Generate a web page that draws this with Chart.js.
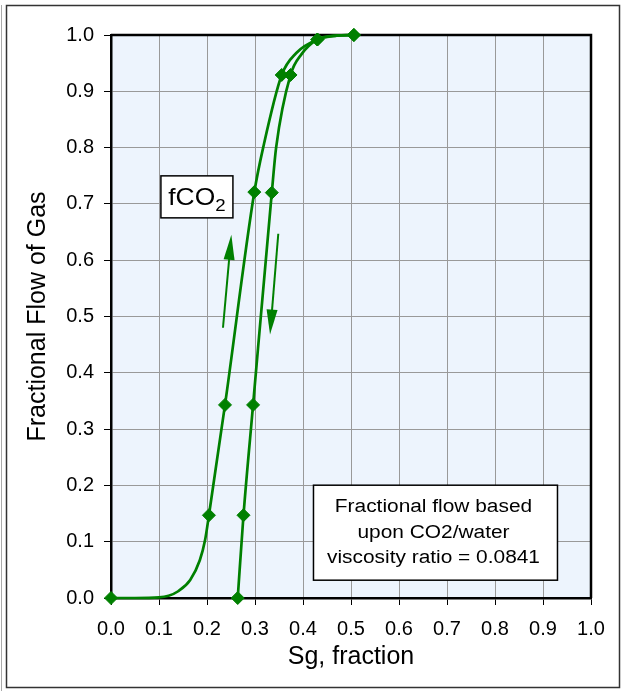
<!DOCTYPE html>
<html>
<head>
<meta charset="utf-8">
<script src="https://cdn.jsdelivr.net/npm/chart.js@4/dist/chart.umd.min.js"></script>
<style>
  html, body { margin: 0; padding: 0; background: #fff; }
</style>
</head>
<body>
<canvas id="myChart" width="626" height="691"></canvas>
<script>
// ticks (both axes use the same 0.0 .. 1.0 steps)
const tickValues = [0, 0.1, 0.2, 0.3, 0.4, 0.5, 0.6, 0.7, 0.8, 0.9, 1.0];
const tickLabels = ["0.0", "0.1", "0.2", "0.3", "0.4", "0.5", "0.6", "0.7", "0.8", "0.9", "1.0"];

// increasing Sg (left curve) - marked points
const drainMarkSg = [0.0, 0.204, 0.2375, 0.2986, 0.3556, 0.430, 0.506];
const drainMarkFg = [0.0, 0.147, 0.343, 0.721, 0.929, 0.992, 1.0];
// left curve as drawn
const drainLineSg = [0.0, 0.05, 0.10, 0.12, 0.14, 0.165, 0.185, 0.196, 0.204, 0.2375, 0.2986, 0.317, 0.3556, 0.386, 0.430, 0.470, 0.506];
const drainLineFg = [0.0, 0.0, 0.001, 0.004, 0.012, 0.032, 0.067, 0.103, 0.147, 0.343, 0.721, 0.800, 0.929, 0.968, 0.992, 0.999, 1.0];

// decreasing Sg (right curve) - marked points
const imbMarkSg = [0.264, 0.276, 0.296, 0.335, 0.374, 0.430, 0.506];
const imbMarkFg = [0.0, 0.147, 0.343, 0.720, 0.929, 0.992, 1.0];
// right curve as drawn
const imbLineSg = [0.264, 0.276, 0.296, 0.335, 0.344, 0.374, 0.397, 0.430, 0.470, 0.506];
const imbLineFg = [0.0, 0.147, 0.343, 0.720, 0.800, 0.929, 0.966, 0.992, 0.999, 1.0];

// annotation anchors in data units
const arrowUp = [[0.2333, 0.48], [0.2507, 0.645]];
const arrowDown = [[0.3485, 0.647], [0.3313, 0.468]];
const fco2Anchor = [0.179, 0.7125];
const noteAnchor = [0.676, 0.116];
const noteLines = ["Fractional flow based", "upon CO2/water", "viscosity ratio = 0.0841"];

const GREEN = "#008000";
const FONT = "'Liberation Sans', Arial, sans-serif";

function pts(xs, ys) {
    return xs.map((x, i) => ({ x: x, y: ys[i] }));
}

function drawArrow(ctx, x1, y1, x2, y2) {
    const a = Math.atan2(y2 - y1, x2 - x1);
    const hl = 25, hw = 5.5;
    const c = Math.cos(a), s = Math.sin(a);
    ctx.beginPath();
    ctx.moveTo(x1, y1);
    ctx.lineTo(x2 - hl * 0.7 * c, y2 - hl * 0.7 * s);
    ctx.stroke();
    ctx.beginPath();
    ctx.moveTo(x2, y2);
    ctx.lineTo(x2 - hl * c + hw * s, y2 - hl * s - hw * c);
    ctx.lineTo(x2 - hl * c - hw * s, y2 - hl * s + hw * c);
    ctx.closePath();
    ctx.fill();
}

// text drawn a bit wider, like the original picture
function wideText(ctx, txt, x, y, sx) {
    ctx.save();
    ctx.translate(x, y);
    ctx.scale(sx, 1);
    ctx.fillText(txt, 0, 0);
    ctx.restore();
}

const decor = {
    id: "decor",
    beforeDraw(chart) {
        const { ctx, chartArea: ca } = chart;
        ctx.save();
        ctx.fillStyle = "#fff";
        ctx.fillRect(0, 0, chart.width, chart.height);
        ctx.fillStyle = "#EDF4FD";
        ctx.fillRect(ca.left, ca.top, ca.right - ca.left, ca.bottom - ca.top);
        ctx.restore();
    },
    beforeDatasetsDraw(chart) {
        const { ctx, chartArea: ca } = chart;
        ctx.save();
        ctx.strokeStyle = "#000";
        ctx.lineWidth = 2.5;
        ctx.beginPath();
        ctx.moveTo(ca.left, ca.top);
        ctx.lineTo(ca.right, ca.top);
        ctx.lineTo(ca.right, ca.bottom);
        ctx.stroke();
        ctx.restore();
    },
    afterDraw(chart) {
        const { ctx } = chart;
        const xs = chart.scales.x, ys = chart.scales.y;
        const px = v => xs.getPixelForValue(v);
        const py = v => ys.getPixelForValue(v);
        ctx.save();

        // arrows
        ctx.strokeStyle = GREEN;
        ctx.fillStyle = GREEN;
        ctx.lineWidth = 2;
        [arrowUp, arrowDown].forEach(ar => {
            drawArrow(ctx, px(ar[0][0]), py(ar[0][1]), px(ar[1][0]), py(ar[1][1]));
        });

        // fCO2 box
        let cx = px(fco2Anchor[0]), cy = py(fco2Anchor[1]);
        ctx.fillStyle = "#fff";
        ctx.strokeStyle = "#000";
        ctx.lineWidth = 1.5;
        ctx.fillRect(cx - 36, cy - 21, 72, 42);
        ctx.strokeRect(cx - 36, cy - 21, 72, 42);
        ctx.fillStyle = "#000";
        ctx.textBaseline = "alphabetic";
        ctx.textAlign = "left";
        ctx.font = "24px " + FONT;
        const w1 = ctx.measureText("fCO").width * 1.1;
        ctx.font = "17px " + FONT;
        const w2 = ctx.measureText("2").width * 1.1;
        const sx0 = cx - (w1 + w2) / 2;
        ctx.font = "24px " + FONT;
        wideText(ctx, "fCO", sx0, cy + 8.5, 1.1);
        ctx.font = "17px " + FONT;
        wideText(ctx, "2", sx0 + w1, cy + 14, 1.1);

        // note box
        cx = px(noteAnchor[0]); cy = py(noteAnchor[1]);
        ctx.fillStyle = "#fff";
        ctx.fillRect(cx - 122, cy - 47.5, 244, 95);
        ctx.strokeRect(cx - 122, cy - 47.5, 244, 95);
        ctx.fillStyle = "#000";
        ctx.textAlign = "center";
        ctx.font = "18px " + FONT;
        noteLines.forEach((t, i) => {
            wideText(ctx, t, cx - 2, cy - 20.5 + i * 25.5, 1.16);
        });

        // outer frame
        ctx.strokeStyle = "#333";
        ctx.lineWidth = 1.5;
        ctx.strokeRect(6.5, 5.5, 613, 682);
        ctx.strokeStyle = "#aaa";
        ctx.lineWidth = 1;
        ctx.beginPath();
        ctx.moveTo(1.5, 5);
        ctx.lineTo(1.5, 691);
        ctx.stroke();
        ctx.restore();
    }
};

const ctx = document.getElementById("myChart").getContext("2d");
Chart.defaults.font.family = FONT;
Chart.defaults.color = "#000";

new Chart(ctx, {
    type: "scatter",
    data: {
        datasets: [
            {
                data: pts(drainLineSg, drainLineFg),
                showLine: true,
                borderColor: GREEN,
                borderWidth: 2.7,
                pointRadius: 0,
                cubicInterpolationMode: "monotone",
                clip: false
            },
            {
                data: pts(imbLineSg, imbLineFg),
                showLine: true,
                borderColor: GREEN,
                borderWidth: 2.7,
                pointRadius: 0,
                cubicInterpolationMode: "monotone",
                clip: false
            },
            {
                data: pts(drainMarkSg, drainMarkFg),
                showLine: false,
                pointStyle: "rectRot",
                pointRadius: 6.5,
                borderWidth: 1,
                backgroundColor: GREEN,
                borderColor: GREEN,
                clip: false
            },
            {
                data: pts(imbMarkSg, imbMarkFg),
                showLine: false,
                pointStyle: "rectRot",
                pointRadius: 6.5,
                borderWidth: 1,
                backgroundColor: GREEN,
                borderColor: GREEN,
                clip: false
            }
        ]
    },
    options: {
        responsive: false,
        animation: false,
        layout: { padding: { top: 35, right: 35, left: 0, bottom: 0 } },
        plugins: {
            legend: { display: false },
            tooltip: { enabled: false }
        },
        scales: {
            x: {
                type: "linear",
                min: 0,
                max: 1,
                afterBuildTicks: s => { s.ticks = tickValues.map(v => ({ value: v })); },
                afterFit: s => { s.height = 93; },
                ticks: {
                    padding: 12,
                    color: "#000",
                    font: { size: 20 },
                    maxRotation: 0,
                    autoSkip: false,
                    callback: (v, i) => tickLabels[i]
                },
                grid: { color: "#999", lineWidth: 1, tickColor: "#000", tickLength: 7, tickWidth: 1 },
                border: { color: "#000", width: 2.5 },
                title: {
                    display: true,
                    text: "Sg, fraction",
                    color: "#000",
                    font: { size: 25 },
                    padding: { top: 0, bottom: 19 }
                }
            },
            y: {
                type: "linear",
                min: 0,
                max: 1,
                afterBuildTicks: s => { s.ticks = tickValues.map(v => ({ value: v })); },
                afterFit: s => { s.width = 111; },
                ticks: {
                    padding: 10,
                    color: "#000",
                    font: { size: 20 },
                    autoSkip: false,
                    callback: (v, i) => tickLabels[i]
                },
                grid: { color: "#999", lineWidth: 1, tickColor: "#000", tickLength: 7, tickWidth: 1 },
                border: { color: "#000", width: 2.5 },
                title: {
                    display: true,
                    text: "Fractional Flow of Gas",
                    color: "#000",
                    font: { size: 25 },
                    padding: { top: 23.5, bottom: 0 }
                }
            }
        }
    },
    plugins: [decor]
});
</script>
</body>
</html>
